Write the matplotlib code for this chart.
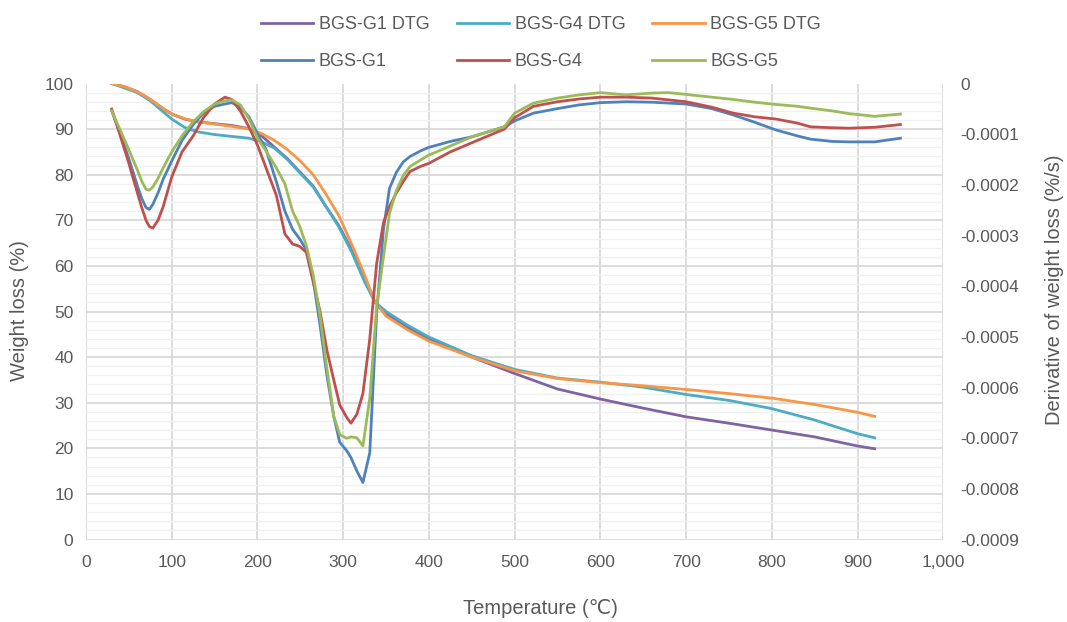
import numpy as np
import matplotlib
matplotlib.use('Agg')
import matplotlib.pyplot as plt
from matplotlib.ticker import MultipleLocator, FuncFormatter

plt.rcParams['font.family'] = ['Liberation Sans', 'DejaVu Sans']

# weight curves (left axis, %) - labelled "DTG" in the original legend
tg_temp = [30, 45, 60, 75, 90, 100, 115, 130, 150, 170, 190, 205, 220, 235, 250,
           265, 280, 295, 310, 325, 337, 350, 375, 400, 450, 500, 550, 600, 650,
           700, 750, 800, 850, 900, 920]
tg_g1 = [100, 99.3, 98.2, 96.5, 94.5, 93.3, 92.2, 91.6, 91.2, 90.8, 90.1, 88.5, 86,
         83.5, 80.5, 77.5, 73, 68.8, 63.5, 57, 52.1, 49.5, 46.5, 44, 40, 36.4, 33,
         30.8, 28.8, 26.9, 25.5, 24, 22.5, 20.5, 19.9]
tg_g4 = [100, 99, 98, 96.2, 93.8, 92.2, 90.4, 89.4, 88.8, 88.4, 88, 87.2, 85.8,
         83.3, 80.3, 77.3, 73, 68.5, 63, 56.5, 52.1, 50, 47, 44.4, 40.3, 37.3, 35.4,
         34.5, 33.4, 31.8, 30.5, 28.7, 26.2, 23.2, 22.3]
tg_g5 = [100, 99.3, 98.2, 96.5, 94.5, 93.3, 92.3, 91.6, 91.1, 90.6, 90, 89, 87.5,
         85.5, 83, 80, 75.7, 71, 64.7, 58, 52.1, 49, 46, 43.5, 40, 37, 35.3, 34.4,
         33.7, 32.9, 32, 31, 29.6, 27.9, 27]

# derivative curves (right axis, %/s)
dtg_temp = [30, 35, 40, 45, 50, 55, 60, 65, 70, 74, 78, 84, 90, 100, 112, 125, 137,
            150, 162, 170, 180, 190, 200, 210, 222, 232, 241, 249, 257, 265, 273,
            281, 289, 296, 304, 309, 316, 323, 331, 339, 347, 354, 362, 370, 378,
            390, 400, 425, 450, 488, 500, 522, 550, 575, 600, 630, 660, 680, 700,
            730, 755, 780, 805, 830, 845, 870, 890, 920, 950]
dtg_g1 = [-0.54e-4, -0.765e-4, -0.99e-4, -1.242e-4, -1.485e-4, -1.755e-4, -2.025e-4,
          -2.268e-4, -2.448e-4, -2.484e-4, -2.385e-4, -2.16e-4, -1.89e-4, -1.53e-4,
          -1.125e-4, -0.81e-4, -0.585e-4, -0.45e-4, -0.405e-4, -0.378e-4,
          -0.468e-4, -0.657e-4, -0.99e-4, -1.305e-4, -1.935e-4, -2.52e-4, -2.88e-4,
          -3.06e-4, -3.285e-4, -3.87e-4, -4.77e-4, -5.76e-4, -6.57e-4, -7.083e-4,
          -7.245e-4, -7.38e-4, -7.65e-4, -7.875e-4, -7.29e-4, -4.545e-4, -2.88e-4,
          -2.07e-4, -1.755e-4, -1.548e-4, -1.44e-4, -1.332e-4, -1.26e-4, -1.143e-4,
          -1.053e-4, -0.855e-4, -0.738e-4, -0.585e-4, -0.495e-4, -0.423e-4,
          -0.378e-4, -0.36e-4, -0.369e-4, -0.387e-4, -0.405e-4, -0.495e-4,
          -0.621e-4, -0.765e-4, -0.918e-4, -1.035e-4, -1.098e-4, -1.143e-4,
          -1.152e-4, -1.152e-4, -1.08e-4]
dtg_g4 = [-0.504e-4, -0.765e-4, -1.035e-4, -1.305e-4, -1.575e-4, -1.872e-4,
          -2.16e-4, -2.448e-4, -2.7e-4, -2.826e-4, -2.853e-4, -2.7e-4, -2.43e-4,
          -1.845e-4, -1.35e-4, -1.035e-4, -0.675e-4, -0.405e-4, -0.27e-4, -0.315e-4,
          -0.54e-4, -0.855e-4, -1.215e-4, -1.665e-4, -2.205e-4, -2.97e-4, -3.168e-4,
          -3.213e-4, -3.33e-4, -3.915e-4, -4.5e-4, -5.265e-4, -5.85e-4, -6.345e-4,
          -6.588e-4, -6.705e-4, -6.525e-4, -6.12e-4, -5.04e-4, -3.555e-4, -2.745e-4,
          -2.43e-4, -2.16e-4, -1.935e-4, -1.737e-4, -1.638e-4, -1.575e-4, -1.35e-4,
          -1.17e-4, -0.9e-4, -0.675e-4, -0.45e-4, -0.36e-4, -0.306e-4, -0.27e-4,
          -0.27e-4, -0.288e-4, -0.324e-4, -0.36e-4, -0.468e-4, -0.585e-4, -0.657e-4,
          -0.702e-4, -0.783e-4, -0.855e-4, -0.873e-4, -0.882e-4, -0.864e-4, -0.81e-4]
dtg_g5 = [-0.54e-4, -0.738e-4, -0.918e-4, -1.116e-4, -1.305e-4, -1.512e-4, -1.71e-4,
          -1.926e-4, -2.088e-4, -2.106e-4, -2.043e-4, -1.872e-4, -1.665e-4,
          -1.35e-4, -1.035e-4, -0.756e-4, -0.558e-4, -0.405e-4, -0.342e-4, -0.324e-4,
          -0.423e-4, -0.693e-4, -1.08e-4, -1.332e-4, -1.665e-4, -1.98e-4, -2.52e-4,
          -2.808e-4, -3.195e-4, -3.78e-4, -4.59e-4, -5.625e-4, -6.57e-4, -6.93e-4,
          -7.002e-4, -6.975e-4, -6.993e-4, -7.155e-4, -6.21e-4, -4.41e-4, -3.42e-4,
          -2.565e-4, -2.115e-4, -1.818e-4, -1.638e-4, -1.512e-4, -1.413e-4, -1.233e-4,
          -1.053e-4, -0.855e-4, -0.585e-4, -0.387e-4, -0.288e-4, -0.225e-4, -0.18e-4,
          -0.225e-4, -0.189e-4, -0.18e-4, -0.216e-4, -0.27e-4, -0.315e-4, -0.369e-4,
          -0.414e-4, -0.45e-4, -0.486e-4, -0.54e-4, -0.594e-4, -0.648e-4, -0.603e-4]

TEXT = '#595959'

fig = plt.figure(figsize=(10.67, 6.22), dpi=100)
ax = fig.add_axes([86 / 1067, 1 - 539.5 / 622, 857.3 / 1067, 456 / 622])
ax2 = ax.twinx()

ax.set_xlim(0, 1000)
ax.set_ylim(0, 100)
ax2.set_ylim(-0.0009, 0)
ax.xaxis.set_major_locator(MultipleLocator(100))
ax.yaxis.set_major_locator(MultipleLocator(10))
ax.yaxis.set_minor_locator(MultipleLocator(2))
ax2.yaxis.set_major_locator(MultipleLocator(0.0001))
ax.xaxis.set_major_formatter(FuncFormatter(lambda v, p: f'{int(round(v)):,}'))
ax2.yaxis.set_major_formatter(
    FuncFormatter(lambda v, p: '0' if abs(v) < 1e-12 else f'{v:.4f}'))

ax.set_axisbelow(True)
ax.grid(which='major', color='#d9d9d9', lw=1.3)
ax.grid(which='minor', axis='y', color='#f0f0f0', lw=1.0)
for a in (ax, ax2):
    for s in a.spines.values():
        s.set_visible(False)
ax.tick_params(axis='y', which='both', length=0, labelsize=12.5, colors=TEXT, pad=9)
ax.tick_params(axis='x', which='both', length=0, labelsize=12.5, colors=TEXT, pad=11)
ax2.tick_params(axis='y', length=0, labelsize=12.5, colors=TEXT, pad=12)

l1, = ax.plot(tg_temp, tg_g1, color='#8064A2', lw=2, label='BGS-G1 DTG')
l2, = ax.plot(tg_temp, tg_g4, color='#4BACC6', lw=2, label='BGS-G4 DTG')
l3, = ax.plot(tg_temp, tg_g5, color='#F79646', lw=2, label='BGS-G5 DTG')
l4, = ax2.plot(dtg_temp, dtg_g1, color='#4F81BD', lw=2, label='BGS-G1')
l5, = ax2.plot(dtg_temp, dtg_g4, color='#C0504D', lw=2, label='BGS-G4')
l6, = ax2.plot(dtg_temp, dtg_g5, color='#9BBB59', lw=2, label='BGS-G5')

fig.legend(handles=[l1, l4, l2, l5, l3, l6], loc='upper center',
           bbox_to_anchor=(541 / 1067, 1.0), ncol=3, frameon=False,
           fontsize=13, labelcolor=TEXT, handlelength=2.9, columnspacing=1.5,
           labelspacing=1.1, handletextpad=0.3)

fig.text(20 / 1067, 1 - 311 / 622, 'Weight loss (%)', rotation=90,
         ha='center', va='center', fontsize=14.5, color=TEXT)
fig.text(1055 / 1067, 1 - 290 / 622, 'Derivative of weight loss (%/s)',
         rotation=90, ha='center', va='center', fontsize=14.5, color=TEXT)
fig.text(540 / 1067, 1 - 608 / 622, 'Temperature (\u2103)', ha='center',
         va='center', fontsize=14.5, color=TEXT)

fig.savefig('out.png', dpi=100)
